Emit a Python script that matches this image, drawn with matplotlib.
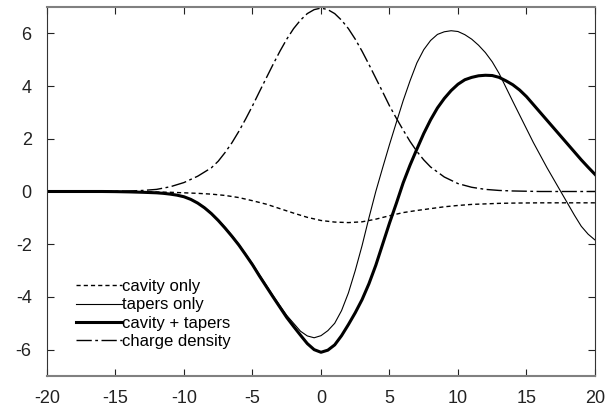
import matplotlib
matplotlib.use("Agg")
import matplotlib.pyplot as plt

plt.rcParams['font.family'] = ['Liberation Sans', 'DejaVu Sans']
plt.rcParams['lines.scale_dashes'] = False
plt.rcParams['axes.unicode_minus'] = False

# cavity only (short dashes)
cav_x = [-20, -15, -13, -12, -11, -10, -9, -8, -7, -6, -5, -4, -3, -2, -1, 0, 1, 2, 3, 4, 5, 6,
         7, 8, 9, 10, 11, 12, 13, 14, 16, 18, 20]
cav_y = [0, 0, -0.01, -0.02, -0.03, -0.05, -0.07, -0.1, -0.15, -0.23, -0.35, -0.48, -0.65,
         -0.82, -0.98, -1.1, -1.16, -1.18, -1.15, -1.05, -0.92, -0.8, -0.72, -0.65, -0.58,
         -0.53, -0.49, -0.47, -0.45, -0.44, -0.43, -0.43, -0.43]

# tapers only (thin)
tap_x = [-20, -16, -15, -14, -13, -12, -11.5, -11, -10.5, -10, -9.5, -9, -8.5, -8, -7.5, -7,
         -6.5, -6, -5.5, -5, -4.5, -4, -3.5, -3, -2.5, -2, -1.5, -1, -0.5, 0, 0.5, 1, 1.5, 2,
         2.5, 3, 3.5, 4, 4.5, 5, 5.5, 6, 6.5, 7, 7.5, 8, 8.5, 9, 9.5, 10, 10.5, 11, 11.5, 12,
         12.5, 13, 13.5, 14, 14.5, 15, 15.5, 16, 16.5, 17, 17.5, 18, 18.5, 19, 19.5, 20]
tap_y = [0, 0, -0.005, -0.015, -0.03, -0.05, -0.07, -0.1, -0.14, -0.2, -0.3, -0.43, -0.6,
         -0.82, -1.07, -1.36, -1.67, -2.0, -2.37, -2.74, -3.15, -3.55, -3.95, -4.33, -4.7, -5.0,
         -5.3, -5.48, -5.55, -5.47, -5.28, -5.0, -4.52, -3.85, -3.0, -2.05, -1.0, 0.0, 0.9,
         1.78, 2.62, 3.45, 4.2, 4.88, 5.38, 5.73, 5.96, 6.06, 6.1, 6.07, 5.95, 5.78, 5.55, 5.27,
         4.92, 4.48, 3.95, 3.42, 2.9, 2.38, 1.86, 1.38, 0.9, 0.45, 0.0, -0.45, -0.9, -1.32,
         -1.62, -1.84]

# cavity + tapers (thick)
tot_x = [-20, -16, -15, -14, -13, -12, -11.5, -11, -10.5, -10, -9.5, -9, -8.5, -8, -7.5, -7,
         -6.5, -6, -5.5, -5, -4.5, -4, -3.5, -3, -2.5, -2, -1.5, -1, -0.5, 0, 0.5, 1, 1.5, 2,
         2.5, 3, 3.5, 4, 4.5, 5, 5.5, 6, 6.5, 7, 7.5, 8, 8.5, 9, 9.5, 10, 10.5, 11, 11.5, 12,
         12.5, 13, 13.5, 14, 14.5, 15, 15.5, 16, 16.5, 17, 17.5, 18, 18.5, 19, 19.5, 20]
tot_y = [0, 0, -0.005, -0.015, -0.03, -0.05, -0.07, -0.1, -0.14, -0.2, -0.3, -0.44, -0.62,
         -0.84, -1.1, -1.39, -1.7, -2.03, -2.4, -2.78, -3.2, -3.6, -4.0, -4.39, -4.78, -5.12,
         -5.45, -5.77, -6.0, -6.1, -6.02, -5.82, -5.47, -5.05, -4.6, -4.1, -3.5, -2.8, -2.0,
         -1.2, -0.45, 0.33, 1.0, 1.61, 2.2, 2.72, 3.17, 3.53, 3.83, 4.07, 4.24, 4.33, 4.39, 4.41,
         4.4, 4.33, 4.2, 4.05, 3.85, 3.6, 3.3, 3.0, 2.7, 2.4, 2.1, 1.8, 1.5, 1.2, 0.92, 0.65]

# charge density (dash-dot)
chg_x = [-20, -15, -14, -13, -12, -11, -10, -9, -8, -7.5, -7, -6.5, -6, -5.5, -5, -4.5, -4,
         -3.5, -3, -2.5, -2, -1.5, -1, -0.5, 0, 0.5, 1, 1.5, 2, 2.5, 3, 3.5, 4, 4.5, 5, 5.5, 6,
         6.5, 7, 7.5, 8, 9, 10, 11, 12, 13, 14, 16, 20]
chg_y = [0, 0.01, 0.02, 0.04, 0.08, 0.18, 0.34, 0.58, 0.9, 1.15, 1.48, 1.85, 2.28, 2.75, 3.25,
         3.78, 4.3, 4.82, 5.32, 5.78, 6.18, 6.5, 6.75, 6.9, 6.96, 6.9, 6.75, 6.5, 6.18, 5.78,
         5.32, 4.82, 4.3, 3.78, 3.25, 2.78, 2.33, 1.9, 1.52, 1.2, 0.93, 0.55, 0.3, 0.16, 0.08,
         0.04, 0.02, 0.0, 0.0]

fig = plt.figure(figsize=(6.12, 4.12), dpi=100)
ax = fig.add_axes([0.0768, 0.0874, 0.8954, 0.8956])

ax.plot(cav_x, cav_y, color='black', lw=1.0, dashes=(3, 2.2), label='cavity only')
ax.plot(tap_x, tap_y, color='black', lw=0.8, label='tapers only')
ax.plot(tot_x, tot_y, color='black', lw=2.2, label='cavity + tapers')
ax.plot(chg_x, chg_y, color='black', lw=1.0, dashes=(11, 2.5, 2, 2.5), label='charge density')

ax.set_xlim(-20, 20)
ax.set_ylim(-7, 7)
ax.set_xticks(range(-20, 21, 5))
ax.set_yticks(range(-6, 7, 2))
ax.tick_params(direction='in', top=True, right=True, length=5, width=0.8,
               labelsize=13, colors='#222222')
ax.tick_params(axis='x', pad=10)
ax.tick_params(axis='y', pad=11)
for side in ['top', 'bottom']:
    ax.spines[side].set_color('#808080')
    ax.spines[side].set_linewidth(1.5)
for side in ['left', 'right']:
    ax.spines[side].set_color('#333333')
    ax.spines[side].set_linewidth(0.8)

ax.legend(loc='lower left', bbox_to_anchor=(0.04, 0.055), frameon=False, fontsize=12,
          handlelength=2.8, handletextpad=0.0, labelspacing=0.2, borderaxespad=0)

fig.savefig('out.png', dpi=100)
